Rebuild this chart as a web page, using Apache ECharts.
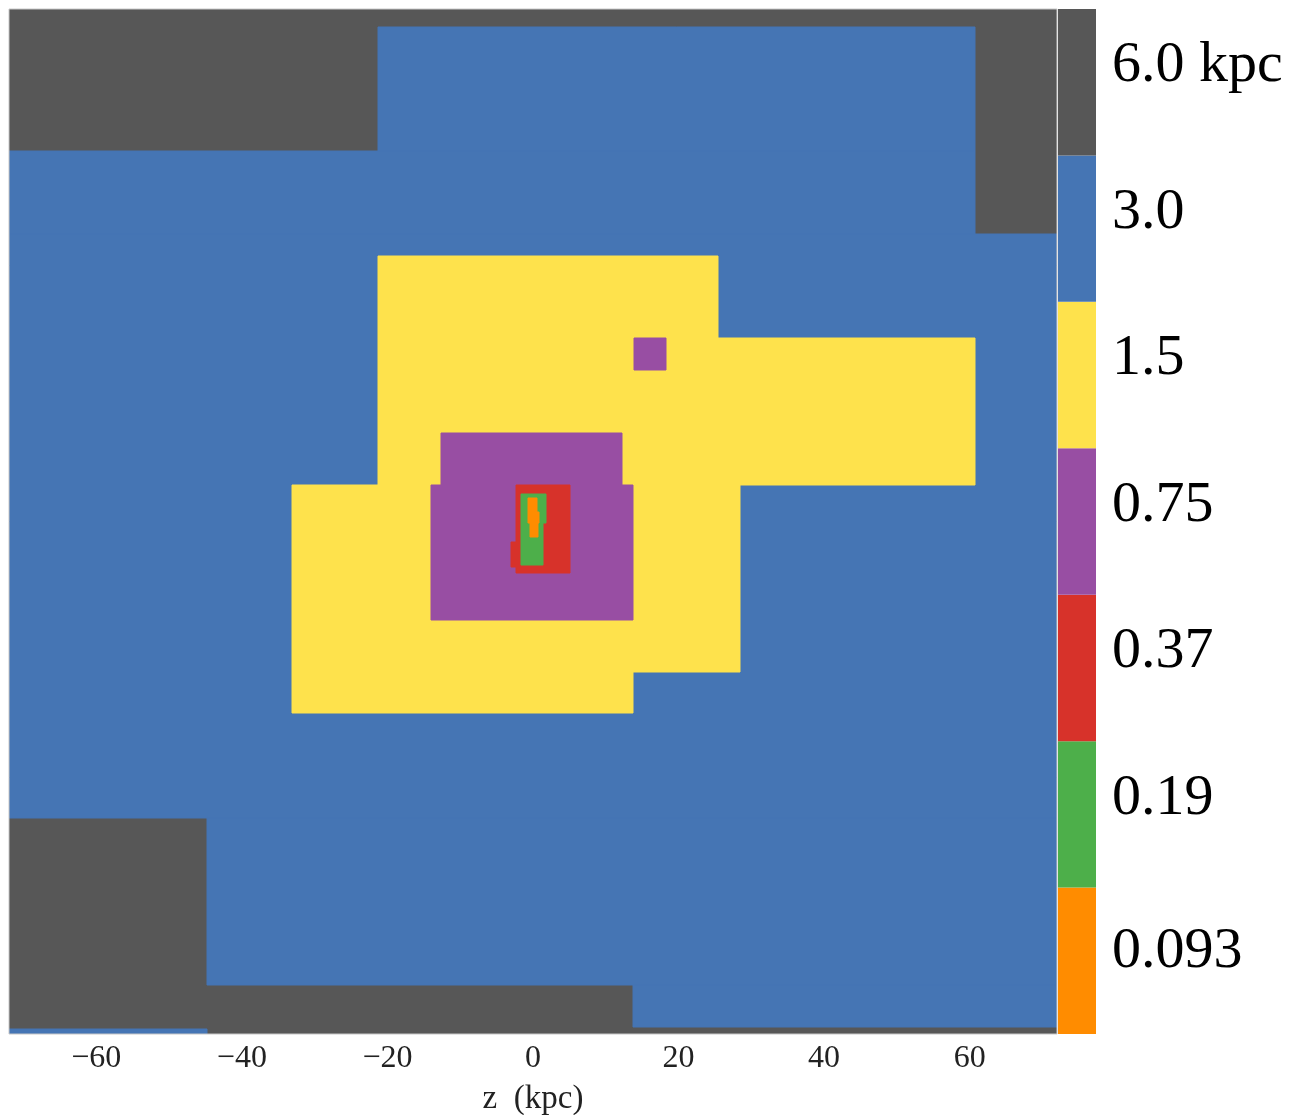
<!DOCTYPE html>
<html>
<head>
<meta charset="utf-8">
<script src="https://cdn.jsdelivr.net/npm/echarts@6/dist/echarts.min.js"></script>
<style>
html,body{margin:0;padding:0;background:#fff;}
#chart{width:1292px;height:1115px;}
</style>
</head>
<body>
<div id="chart"></div>
<script>
// Refinement levels (cell size), top of colorbar first
const levelLabels = ['6.0 kpc', '3.0', '1.5', '0.75', '0.37', '0.19', '0.093'];
const levelColors = ['#575757', '#4575b4', '#fee24c', '#984ea3', '#d7322a', '#4daf4a', '#ff8c00'];

// Regions per level as rectangles [zMin, zMax, yMin, yMax] in kpc
const regions6_0 = [[-72, 72, -72, 72]];
const regions3_0 = [
  [-21.3, 60.7, 52.0, 69.5],
  [-72, 60.7, 40.4, 52.0],
  [-72, 72, -41.7, 40.4],
  [-44.8, 72, -65.1, -41.7],
  [13.8, 72, -71.0, -65.1],
  [-72, -44.8, -72, -71.3]
];
const regions1_5 = [
  [-21.3, 25.4, 25.8, 37.3],
  [-21.3, 60.7, 5.1, 25.8],
  [-33.1, 28.4, -21.1, 5.1],
  [-33.1, 13.8, -26.9, -21.1]
];
const regions0_75 = [
  [-12.6, 12.2, 5.1, 12.4],
  [-14.0, 13.7, -13.8, 5.1],
  [13.9, 18.3, 21.3, 25.8]
];
const regions0_37 = [
  [-2.3, 5.1, -7.2, 5.1],
  [-3.0, -2.3, -6.4, -2.9]
];
const regions0_19 = [
  [-1.65, 1.8, -0.2, 3.9],
  [-1.65, 1.4, -6.1, -0.2]
];
const regions0_093 = [
  [-0.7, 0.55, 1.3, 3.3],
  [-0.7, 0.8, -0.2, 1.3],
  [-0.4, 0.7, -2.2, -0.2]
];
const levelRegions = [regions6_0, regions3_0, regions1_5, regions0_75, regions0_37, regions0_19, regions0_093];

const xTicks = [-60, -40, -20, 0, 20, 40, 60];

const serif = "'Liberation Serif', 'DejaVu Serif', serif";

function renderRect(params, api) {
  const p0 = api.coord([api.value(0), api.value(3)]);
  const p1 = api.coord([api.value(1), api.value(2)]);
  const x0 = Math.round(p0[0]), y0 = Math.round(p0[1]);
  const x1 = Math.round(p1[0]), y1 = Math.round(p1[1]);
  const c = api.visual('color');
  return {
    type: 'rect',
    shape: { x: x0, y: y0, width: x1 - x0, height: y1 - y0 },
    style: { fill: c, stroke: c, lineWidth: 1 }
  };
}

const series = levelRegions.map((regs, i) => ({
  type: 'custom',
  name: levelLabels[i],
  xAxisIndex: 0,
  yAxisIndex: 0,
  renderItem: renderRect,
  clip: true,
  encode: { x: [0, 1], y: [2, 3] },
  itemStyle: { color: levelColors[i] },
  data: regs,
  z: 2 + i,
  silent: true
}));

// colorbar (bottom to top for category axis)
const cbCats = levelLabels.slice().reverse();
const cbColors = levelColors.slice().reverse();
series.push({
  type: 'bar',
  xAxisIndex: 1,
  yAxisIndex: 1,
  barCategoryGap: '0%',
  silent: true,
  data: cbCats.map((c, i) => ({ value: 1, itemStyle: { color: cbColors[i] } }))
});

const chart = echarts.init(document.getElementById('chart'), null, { renderer: 'canvas' });
chart.setOption({
  animation: false,
  backgroundColor: '#fff',
  grid: [
    { left: 9, right: 235, top: 9, bottom: 81, outerBoundsMode: 'none', containLabel: false,
      show: true, borderColor: '#c8c8c8', borderWidth: 1, backgroundColor: 'transparent', z: 20 },
    { left: 1058, width: 38, top: 9, bottom: 81, outerBoundsMode: 'none', containLabel: false }
  ],
  xAxis: [
    {
      type: 'value', gridIndex: 0, min: -72, max: 72,
      splitLine: { show: false },
      axisLine: { show: false },
      axisTick: { show: false },
      axisLabel: {
        customValues: xTicks,
        fontFamily: serif, fontSize: 32, color: '#222', margin: 9,
        formatter: v => (v < 0 ? '\u2212' + Math.abs(v) : String(v))
      },
      name: 'z  (kpc)', nameLocation: 'middle', nameGap: 49,
      nameTextStyle: { fontFamily: serif, fontSize: 33, color: '#222' }
    },
    {
      type: 'value', gridIndex: 1, min: 0, max: 1, show: false
    }
  ],
  yAxis: [
    {
      type: 'value', gridIndex: 0, min: -72, max: 72, show: false
    },
    {
      type: 'category', gridIndex: 1, data: cbCats, position: 'right',
      axisLine: { show: false }, axisTick: { show: false },
      axisLabel: {
        margin: 16,
        formatter: (v, idx) => idx === 0 ? '{b|' + v + '}' : '{a|' + v + '}',
        rich: {
          a: { fontFamily: serif, fontSize: 58, color: '#000', padding: [0, 0, 32, 0] },
          b: { fontFamily: serif, fontSize: 58, color: '#000', padding: [0, 0, 18, 0] }
        }
      }
    }
  ],
  series: series
});
</script>
</body>
</html>
